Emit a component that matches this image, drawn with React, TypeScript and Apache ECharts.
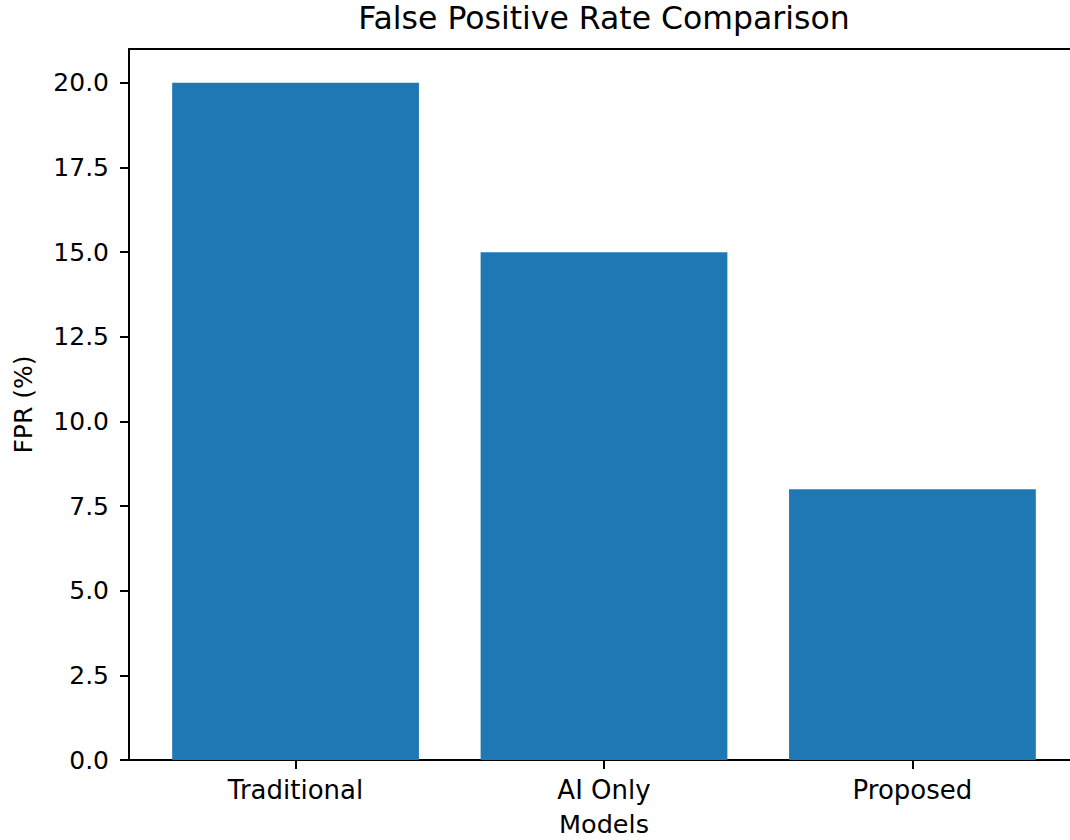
import React, { useEffect, useRef } from "react";
import * as echarts from "echarts";

const categories = ["Traditional", "AI Only", "Proposed"];
const fprValues = [20, 15, 8];
const yTickValues = [0, 2.5, 5, 7.5, 10, 12.5, 15, 17.5, 20];
const xTickValues = [0, 1, 2];

const FONT = "DejaVu Sans";

export default function App() {
  const ref = useRef<HTMLDivElement>(null);
  useEffect(() => {
    if (!ref.current) return;
    const chart = echarts.init(ref.current, undefined, { renderer: "svg" });
    chart.setOption({
      animation: false,
      backgroundColor: "#ffffff",
      title: {
        text: "False Positive Rate Comparison",
        left: 604,
        top: 2,
        padding: 0,
        textAlign: "center",
        textStyle: { fontFamily: FONT, fontSize: 31.5, fontWeight: "normal", color: "#000" },
      },
      grid: {
        left: 129,
        right: -9,
        top: 49,
        bottom: 80,
        outerBoundsMode: "none",
        containLabel: false,
        show: false,
      },
      xAxis: [
        {
          type: "value",
          min: -0.54,
          max: 2.54,
          name: "Models",
          nameLocation: "middle",
          nameGap: 51,
          nameTextStyle: { fontFamily: FONT, fontSize: 25.5, color: "#000" },
          axisLine: { show: true, onZero: false, lineStyle: { color: "#000", width: 2 } },
          axisTick: { show: true, length: 9, lineStyle: { color: "#000", width: 2 }, customValues: xTickValues },
          axisLabel: {
            customValues: xTickValues,
            margin: 17,
            fontFamily: FONT,
            fontSize: 26,
            color: "#000",
            formatter: (v: number) => categories[Math.round(v)] ?? "",
          },
          splitLine: { show: false },
        },
        {
          type: "value",
          position: "top",
          min: -0.54,
          max: 2.54,
          axisLine: { show: true, onZero: false, lineStyle: { color: "#000", width: 2 } },
          axisTick: { show: false },
          axisLabel: { show: false },
          splitLine: { show: false },
        },
      ],
      yAxis: {
        type: "value",
        min: 0,
        max: 21,
        name: "FPR (%)",
        nameLocation: "middle",
        nameGap: 93,
        nameTextStyle: { fontFamily: FONT, fontSize: 25, color: "#000" },
        axisLine: { show: true, onZero: false, lineStyle: { color: "#000", width: 2 } },
        axisTick: { show: true, length: 9, lineStyle: { color: "#000", width: 2 }, customValues: yTickValues },
        axisLabel: {
          customValues: yTickValues,
          margin: 20,
          fontFamily: FONT,
          fontSize: 25,
          color: "#000",
          formatter: (v: number) => v.toFixed(1),
        },
        splitLine: { show: false },
      },
      series: [
        {
          type: "bar",
          xAxisIndex: 0,
          barWidth: "80%",
          itemStyle: { color: "#1f77b4" },
          data: categories.map((c, i) => [i, fprValues[i]]),
        },
      ],
    });
    return () => chart.dispose();
  }, []);
  return (
    <div
      ref={ref}
      style={{ position: "absolute", left: 0, top: 0, width: 1070, height: 840, background: "#fff" }}
    />
  );
}
